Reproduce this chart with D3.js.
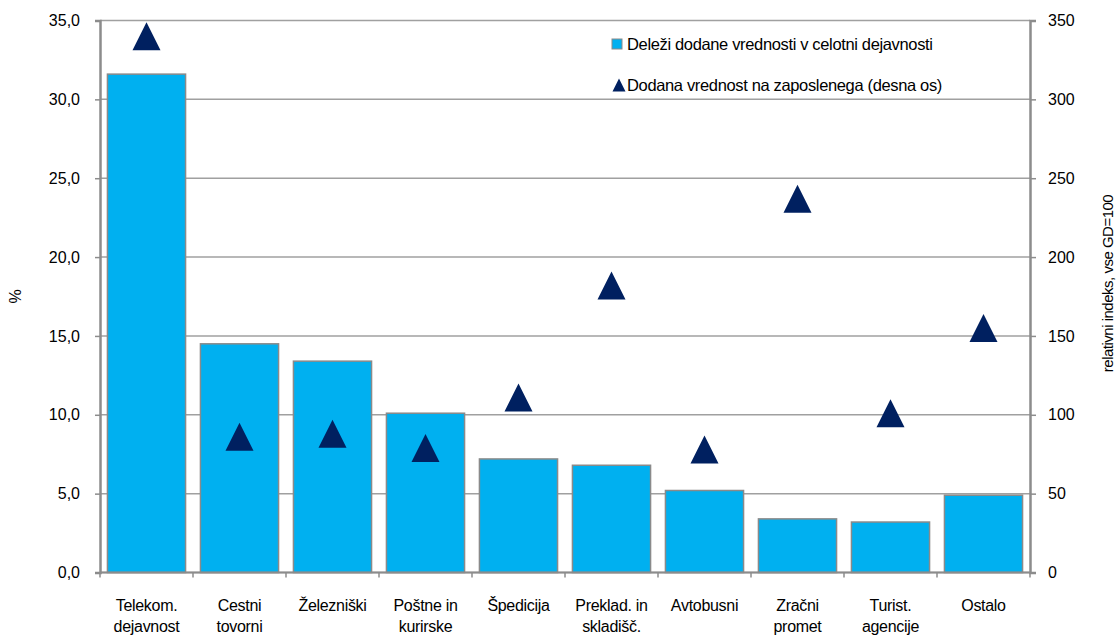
<!DOCTYPE html>
<html>
<head>
<meta charset="utf-8">
<script src="https://cdn.jsdelivr.net/npm/d3@7"></script>
<style>
  body { margin: 0; background: #fff; }
  text { font-family: "Liberation Sans", Arial, sans-serif; fill: #000; }
</style>
</head>
<body>
<div id="chart"></div>
<script>
// Data
const categories = [
    ['Telekom.', 'dejavnost'],
    ['Cestni', 'tovorni'],
    ['Železniški'],
    ['Poštne in', 'kurirske'],
    ['Špedicija'],
    ['Preklad. in', 'skladišč.'],
    ['Avtobusni'],
    ['Zračni', 'promet'],
    ['Turist.', 'agencije'],
    ['Ostalo']
];
const shares = [31.6, 14.5, 13.4, 10.1, 7.2, 6.8, 5.2, 3.4, 3.2, 4.9];
const perEmployee = [340, 86, 88, 79, 111, 182, 78, 237, 101, 155];
const leftTicks = [0, 5, 10, 15, 20, 25, 30, 35];
const rightTicks = [0, 50, 100, 150, 200, 250, 300, 350];
const seriesNames = ['Deleži dodane vrednosti v celotni dejavnosti', 'Dodana vrednost na zaposlenega (desna os)'];

const W = 1120, H = 636;
const margin = { top: 20.5, right: 90, bottom: 63.5, left: 100 };
const width = W - margin.left - margin.right;
const height = H - margin.top - margin.bottom;

const barColor = '#00B0F0';
const triColor = '#002060';
const gridColor = '#a0a0a0';
const axisColor = '#8c8c8c';

const svg = d3.select('#chart').append('svg')
    .attr('width', W)
    .attr('height', H);

const g = svg.append('g')
    .attr('transform', `translate(${margin.left},${margin.top})`);

const x = d3.scaleBand()
    .domain(d3.range(categories.length))
    .range([0, width])
    .paddingInner(0.16)
    .paddingOuter(0.08);

const yL = d3.scaleLinear().domain([0, 35]).range([height, 0]);
const yR = d3.scaleLinear().domain([0, 350]).range([height, 0]);

// gridlines
g.append('g')
    .selectAll('line')
    .data(leftTicks)
    .enter()
    .append('line')
    .attr('x1', 0)
    .attr('x2', width)
    .attr('y1', d => yL(d))
    .attr('y2', d => yL(d))
    .attr('stroke', gridColor)
    .attr('stroke-width', 1.5);

// bars
g.selectAll('.bar')
    .data(shares)
    .enter()
    .append('rect')
    .attr('class', 'bar')
    .attr('x', (d, i) => x(i))
    .attr('y', d => yL(d))
    .attr('width', x.bandwidth())
    .attr('height', d => height - yL(d))
    .attr('fill', barColor)
    .attr('stroke', '#8a8a8a')
    .attr('stroke-width', 1.5);

// triangles (centred on value)
const tri = (s) => `M0,${-s / 2}L${s / 2},${s / 2}L${-s / 2},${s / 2}Z`;
g.selectAll('.tri')
    .data(perEmployee)
    .enter()
    .append('path')
    .attr('class', 'tri')
    .attr('d', tri(28))
    .attr('transform', (d, i) => `translate(${x(i) + x.bandwidth() / 2},${yR(d)})`)
    .attr('fill', triColor);

// left axis
const axL = g.append('g')
    .call(d3.axisLeft(yL).tickValues(leftTicks).tickSize(5).tickPadding(15)
        .tickFormat(d => d3.format('.1f')(d).replace('.', ',')));
// right axis
const axR = g.append('g')
    .attr('transform', `translate(${width},0)`)
    .call(d3.axisRight(yR).tickValues(rightTicks).tickSize(6).tickPadding(12));
// bottom axis with ticks at band edges
const axB = g.append('g')
    .attr('transform', `translate(0,${height})`);
axB.append('line')
    .attr('x1', 0).attr('x2', width)
    .attr('stroke', axisColor).attr('stroke-width', 2);
axB.selectAll('.tk')
    .data(d3.range(categories.length + 1))
    .enter()
    .append('line')
    .attr('x1', i => i * width / categories.length)
    .attr('x2', i => i * width / categories.length)
    .attr('y1', 0).attr('y2', 5)
    .attr('stroke', axisColor).attr('stroke-width', 1.5);

[axL, axR].forEach(ax => {
    ax.select('.domain').attr('stroke', axisColor).attr('stroke-width', 2.5);
    ax.selectAll('.tick line').attr('stroke', axisColor).attr('stroke-width', 1.5);
    ax.selectAll('.tick text').style('font-size', '16px')
        .style('font-family', '"Liberation Sans", Arial, sans-serif');
});

// category labels
const lab = g.append('g')
    .selectAll('text')
    .data(categories)
    .enter()
    .append('text')
    .attr('text-anchor', 'middle')
    .attr('x', (d, i) => x(i) + x.bandwidth() / 2)
    .attr('y', height + 38)
    .style('font-size', '16px')
    .style('letter-spacing', '-0.3px');
lab.selectAll('tspan')
    .data(d => d)
    .enter()
    .append('tspan')
    .attr('x', function () { return d3.select(this.parentNode).attr('x'); })
    .attr('dy', (d, i) => i === 0 ? 0 : 21)
    .text(d => d);

// axis titles
svg.append('text')
    .attr('transform', `translate(21,${margin.top + height / 2}) rotate(-90)`)
    .attr('text-anchor', 'middle')
    .style('font-size', '16px')
    .text('%');
svg.append('text')
    .attr('transform', `translate(1113,${margin.top + height / 2 - 13}) rotate(-90)`)
    .attr('text-anchor', 'middle')
    .style('font-size', '15px')
    .style('letter-spacing', '-0.5px')
    .text('relativni indeks, vse GD=100');

// legend
const legend = svg.append('g').attr('transform', 'translate(612,35)');
legend.append('rect')
    .attr('x', 0).attr('y', 4)
    .attr('width', 10).attr('height', 10)
    .attr('fill', barColor)
    .attr('stroke', '#8a8a8a');
legend.append('text')
    .attr('x', 15).attr('y', 15)
    .style('font-size', '16.5px')
    .style('letter-spacing', '-0.35px')
    .text(seriesNames[0]);
legend.append('path')
    .attr('d', tri(13))
    .attr('transform', 'translate(7,50)')
    .attr('fill', triColor);
legend.append('text')
    .attr('x', 15).attr('y', 56)
    .style('font-size', '16.5px')
    .style('letter-spacing', '-0.35px')
    .text(seriesNames[1]);
</script>
</body>
</html>
